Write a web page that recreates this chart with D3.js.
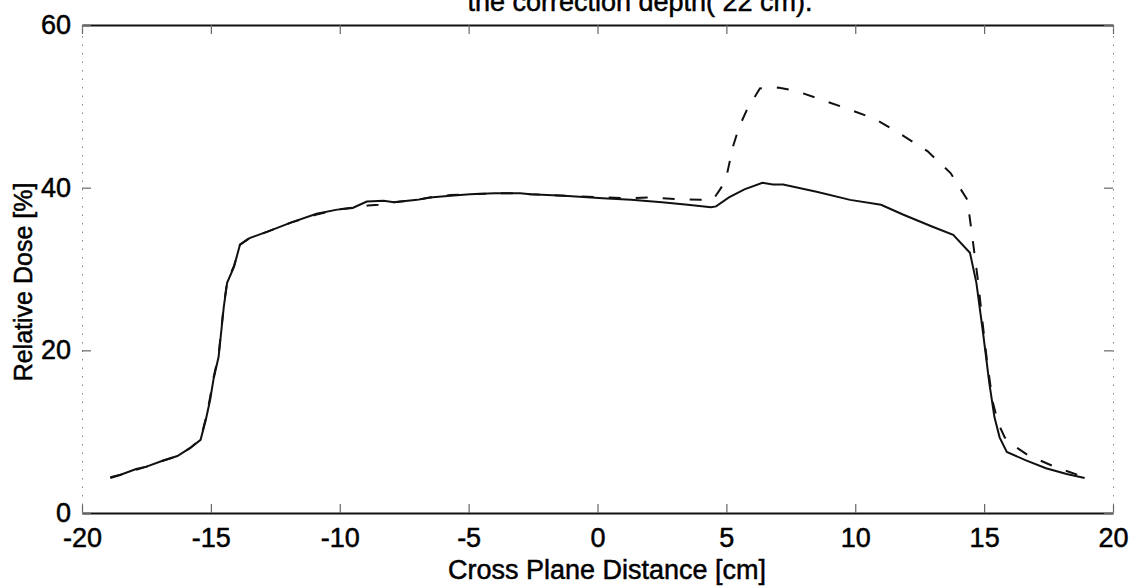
<!DOCTYPE html>
<html>
<head>
<meta charset="utf-8">
<script src="https://cdn.jsdelivr.net/npm/d3@7"></script>
<style>
  html, body { margin: 0; padding: 0; background: #fff; }
  svg { display: block; }
  text { font-family: "Liberation Sans", Arial, Helvetica, sans-serif; fill: #000; stroke: #000; stroke-width: 0.5px; }
</style>
</head>
<body>
<svg id="chart" width="1141" height="588"></svg>
<script>
// Cross-plane dose profiles (relative dose, %) at 22 cm depth
const solidX = [-18.9, -18.5, -17.9, -17.5, -16.9, -16.3, -15.8, -15.4, -15.2, -15.03, -14.9, -14.7, -14.5, -14.37, -14.1, -13.87,
  -13.5, -12.8, -11.9, -10.9, -10.1, -9.5, -8.95, -8.3, -7.9, -7.0, -6.5, -5.7, -4.95, -4.0, -3.0, -2.6, -1.3, 0.2, 1.3, 2.5,
  3.5, 4.4, 4.6, 5.1, 5.7, 6.4, 6.8, 7.2, 8.5, 9.8, 11.0, 11.85, 13.0, 13.8, 14.45, 14.7, 14.96, 15.2, 15.4, 15.6, 15.88,
  16.6, 17.4, 18.2, 18.9];
const solidDose = [4.4, 4.7, 5.4, 5.7, 6.4, 7.0, 8.0, 9.0, 11.4, 13.9, 16.4, 19.2, 25.3, 28.3, 30.3, 33.0,
  33.8, 34.6, 35.7, 36.8, 37.3, 37.5, 38.3, 38.4, 38.2, 38.5, 38.8, 39.0, 39.2, 39.3, 39.3, 39.2, 39.0, 38.7, 38.5, 38.2,
  37.9, 37.6, 37.7, 38.8, 39.8, 40.6, 40.4, 40.4, 39.5, 38.5, 37.9, 36.7, 35.2, 34.2, 32.0, 28.3, 22.1, 16.0, 11.8, 9.3, 7.5,
  6.5, 5.5, 4.8, 4.3];

const dashedX = [-18.9, -18.5, -17.9, -17.5, -16.9, -16.3, -15.8, -15.4, -15.2, -15.03, -14.9, -14.7, -14.5, -14.37, -14.1, -13.87,
  -13.5, -12.8, -11.9, -10.9, -10.1, -9.4, -8.9, -8.5, -7.9, -7.0, -6.5, -5.7, -4.95, -4.0, -3.0, -2.6, -1.3, 0.2, 1.3, 2.0,
  3.0, 4.0, 4.5, 4.8, 5.0, 5.25, 5.5, 5.8, 6.3, 7.0, 7.7, 8.7, 9.7, 10.8, 11.8, 12.8, 13.7, 14.35, 14.56, 14.76, 14.93,
  15.1, 15.33, 15.55, 15.8, 16.0, 16.7, 17.8, 18.9];
const dashedDose = [4.3, 4.7, 5.3, 5.7, 6.4, 7.0, 8.0, 9.1, 11.6, 14.2, 16.6, 19.4, 25.5, 28.4, 30.4, 33.0,
  33.8, 34.6, 35.7, 36.7, 37.3, 37.6, 37.8, 37.9, 38.2, 38.5, 38.8, 39.1, 39.2, 39.3, 39.3, 39.2, 39.0, 38.8, 38.7, 38.8,
  38.6, 38.5, 38.6, 40.0, 41.3, 45.0, 47.5, 49.6, 52.2, 52.3, 51.9, 50.8, 49.7, 48.4, 46.5, 44.5, 41.8, 38.5, 33.5, 28.6, 23.7,
  19.0, 13.7, 11.0, 9.3, 8.6, 7.1, 5.6, 4.4];

const xTicks = [-20, -15, -10, -5, 0, 5, 10, 15, 20];
const yTicks = [0, 20, 40, 60];

const titleText = "the correction depth( 22 cm).";
const xLabel = "Cross Plane Distance [cm]";
const yLabel = "Relative Dose [%]";

const svg = d3.select("#chart");
const plotLeft = 82, plotRight = 1113, plotTop = 25, plotBottom = 513;

const x = d3.scaleLinear().domain([-20, 20]).range([plotLeft, plotRight]);
const y = d3.scaleLinear().domain([0, 60]).range([plotBottom, plotTop]);

// Axes with inward ticks; top and right axes close the box
const fontSize = 27;
const gBottom = svg.append("g").attr("transform", `translate(0,${plotBottom})`)
  .call(d3.axisBottom(x).tickValues(xTicks).tickSizeInner(-9).tickSizeOuter(0).tickPadding(15).tickFormat(d => String(d)));
const gTop = svg.append("g").attr("transform", `translate(0,${plotTop})`)
  .call(d3.axisTop(x).tickValues(xTicks).tickSizeInner(-9).tickSizeOuter(0).tickFormat(""));
const gLeft = svg.append("g").attr("transform", `translate(${plotLeft},0)`)
  .call(d3.axisLeft(y).tickValues(yTicks).tickSizeInner(-9).tickSizeOuter(0).tickPadding(11).tickFormat(d => String(d)));
const gRight = svg.append("g").attr("transform", `translate(${plotRight},0)`)
  .call(d3.axisRight(y).tickValues(yTicks).tickSizeInner(-9).tickSizeOuter(0).tickFormat(""));

[gBottom, gTop, gLeft, gRight].forEach(g => {
  g.selectAll("text").attr("font-size", fontSize).attr("fill", "#000")
    .style("font-family", '"Liberation Sans", Arial, sans-serif');
  g.selectAll(".tick line").attr("stroke", "#666").attr("stroke-width", 1.2);
});
gBottom.select(".domain").attr("stroke", "#111").attr("stroke-width", 1.8);
gTop.select(".domain").attr("stroke", "#111").attr("stroke-width", 1.8);
gLeft.select(".domain").attr("stroke", "#888").attr("stroke-width", 1).attr("stroke-dasharray", "1.5,7");
gRight.select(".domain").attr("stroke", "#888").attr("stroke-width", 1).attr("stroke-dasharray", "1.5,7");

// Profiles
const line = d3.line().x(d => x(d[0])).y(d => y(d[1]));
const solidPts = solidX.map((v, i) => [v, solidDose[i]]);
const dashedPts = dashedX.map((v, i) => [v, dashedDose[i]]);

svg.append("path").datum(dashedPts)
  .attr("d", line).attr("fill", "none").attr("stroke", "#111")
  .attr("stroke-width", 2).attr("stroke-dasharray", "12,15");
svg.append("path").datum(solidPts)
  .attr("d", line).attr("fill", "none").attr("stroke", "#111")
  .attr("stroke-width", 2);

// Labels
svg.append("text").attr("x", 640).attr("y", 11).attr("text-anchor", "middle")
  .attr("font-size", 27).text(titleText);
svg.append("text").attr("x", 607).attr("y", 579).attr("text-anchor", "middle")
  .attr("font-size", 27).text(xLabel);
svg.append("text").attr("transform", "translate(32,282) rotate(-90)").attr("text-anchor", "middle")
  .attr("font-size", 25).text(yLabel);
</script>
</body>
</html>
